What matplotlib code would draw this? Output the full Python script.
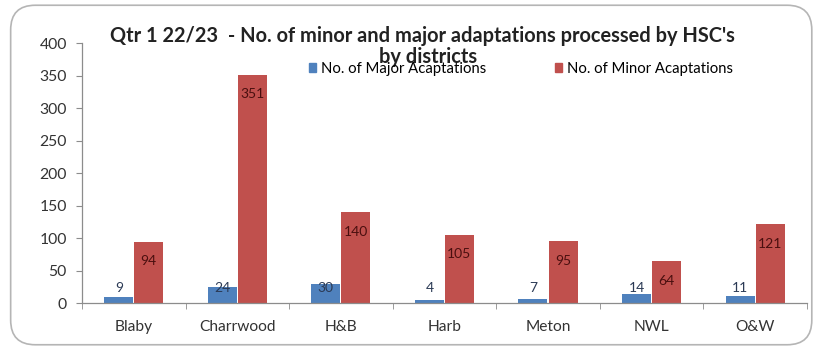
import matplotlib
matplotlib.use("Agg")
import matplotlib.pyplot as plt
import numpy as np
from matplotlib.patches import FancyBboxPatch, Patch

plt.rcParams["font.family"] = ["Lato", "DejaVu Sans"]

districts = ["Blaby", "Charrwood", "H&B", "Harb", "Meton", "NWL", "O&W"]
major = [9, 24, 30, 4, 7, 14, 11]
minor = [94, 351, 140, 105, 95, 64, 121]

BLUE = "#4F81BD"
RED = "#C0504D"
AXIS_GREY = "#8c8c8c"

fig = plt.figure(figsize=(8.2, 3.5), dpi=100, facecolor="white")

# rounded frame around the whole chart, kept behind the axes
frame = FancyBboxPatch(
    (0.013, 0.015), 0.977, 0.97,
    boxstyle="round,pad=0,rounding_size=0.03",
    transform=fig.transFigure, facecolor="white",
    edgecolor="#b5b5b5", linewidth=1.2, mutation_aspect=820 / 350, zorder=-10,
)
fig.patches.append(frame)

ax = fig.add_axes([0.1, 0.134, 0.884, 0.743])
ax.set_facecolor("none")

x = np.arange(len(districts))
w = 0.28
ax.bar(x - 0.145, major, width=w, color=BLUE, label="No. of Major Acaptations")
ax.bar(x + 0.145, minor, width=w, color=RED, label="No. of Minor Acaptations")

# value labels: major above the short bars, minor just inside the top
for xi, v in zip(x, major):
    ax.text(xi - 0.145, 23, str(v), ha="center", va="center", fontsize=10, color="#2b3a55")
for xi, v in zip(x, minor):
    ax.text(xi + 0.145, v - 30, str(v), ha="center", va="center", fontsize=10, color="#4a0f0f")

ax.set_xlim(-0.5, len(districts) - 0.5)
ax.set_ylim(0, 400)
ax.set_yticks(range(0, 401, 50))
ax.set_xticks(x)
ax.set_xticklabels(districts)
ax.set_xticks(np.arange(-0.5, len(districts)), minor=True)
ax.tick_params(axis="x", which="major", length=0, pad=12, labelsize=11.2, colors="#333333")
ax.tick_params(axis="x", which="minor", length=4, color=AXIS_GREY)
ax.tick_params(axis="y", length=4, color=AXIS_GREY, labelsize=11.3, labelcolor="#333333", pad=7)

for side in ["top", "right"]:
    ax.spines[side].set_visible(False)
for side in ["left", "bottom"]:
    ax.spines[side].set_color(AXIS_GREY)
    ax.spines[side].set_linewidth(0.9)

fig.text(0.515, 0.896, "Qtr 1 22/23  - No. of minor and major adaptations processed by HSC's",
         ha="center", va="center", fontsize=14.4, fontweight="bold", color="#222222")
fig.text(0.522, 0.838, "by districts", ha="center", va="center",
         fontsize=14.4, fontweight="bold", color="#222222")

handles = [Patch(color=BLUE, label="No. of Major Acaptations"),
           Patch(color=RED, label="No. of Minor Acaptations")]
fig.legend(handles=handles, loc="center left", bbox_to_anchor=(0.36, 0.803),
           ncol=2, frameon=False, fontsize=10.7, handlelength=0.5, handleheight=0.5,
           handletextpad=0.35, columnspacing=4.6)

fig.savefig("out.png", dpi=100, facecolor="white")
